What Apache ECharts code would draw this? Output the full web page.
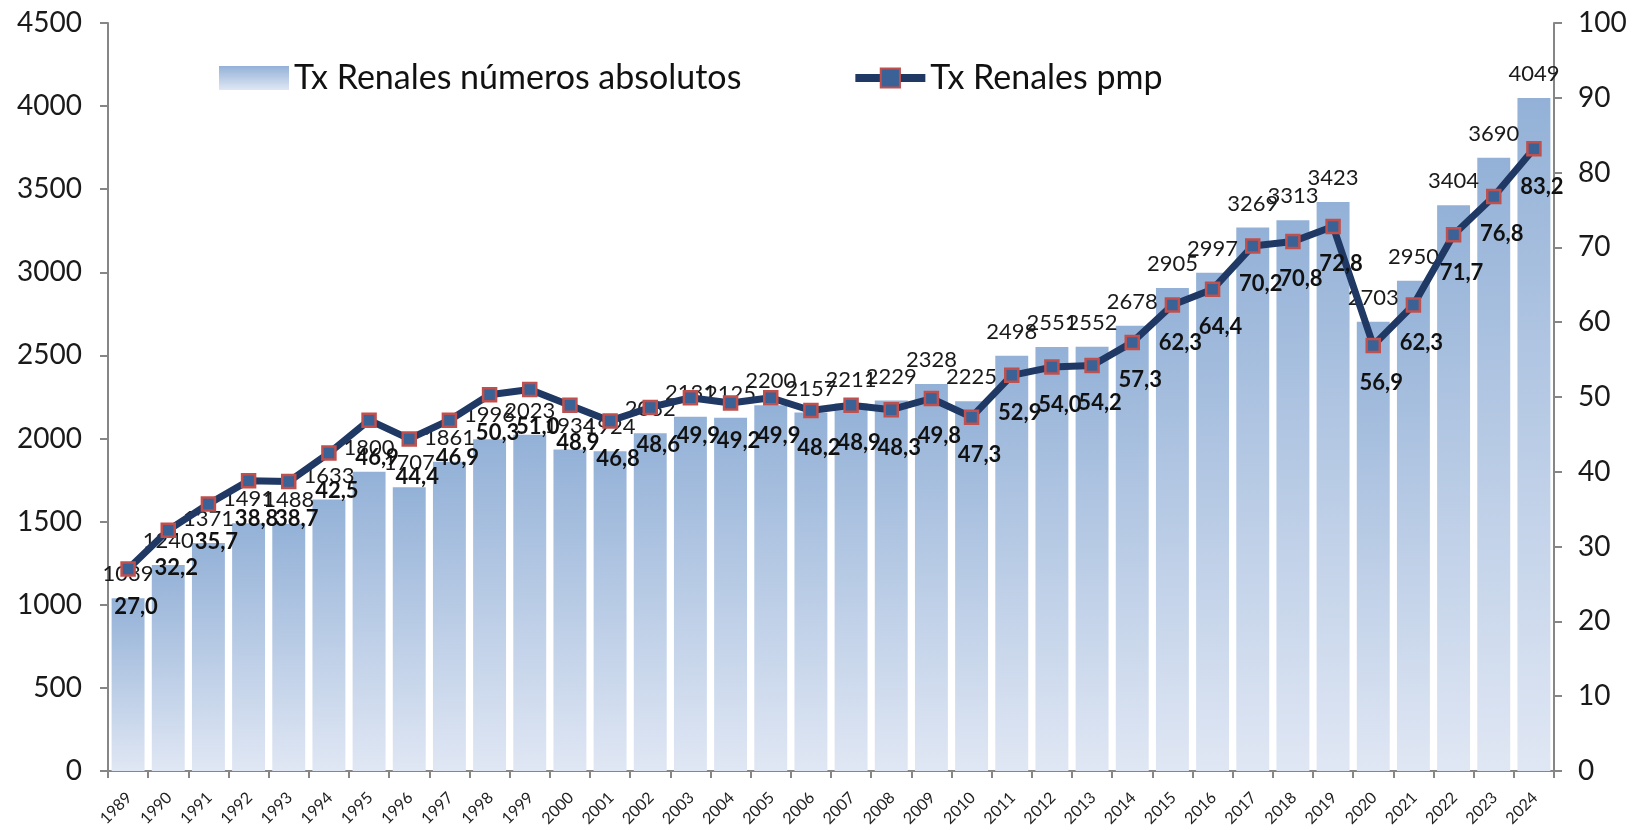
<!DOCTYPE html>
<html>
<head>
<meta charset="utf-8">
<script src="https://cdn.jsdelivr.net/npm/echarts@6/dist/echarts.min.js"></script>
<style>html,body{margin:0;padding:0;background:#fff;}#c{width:1638px;height:830px;}</style>
</head>
<body>
<div id="c"></div>
<script>
const years = ['1989','1990','1991','1992','1993','1994','1995','1996','1997','1998','1999','2000','2001','2002','2003','2004','2005','2006','2007','2008','2009','2010','2011','2012','2013','2014','2015','2016','2017','2018','2019','2020','2021','2022','2023','2024'];
const txAbsolutos = [1039,1240,1371,1491,1488,1633,1800,1707,1861,1996,2023,1934,1924,2032,2131,2125,2200,2157,2211,2229,2328,2225,2498,2551,2552,2678,2905,2997,3269,3313,3423,2703,2950,3404,3690,4049];
const txPmp = [27.0,32.2,35.7,38.8,38.7,42.5,46.9,44.4,46.9,50.3,51.0,48.9,46.8,48.6,49.9,49.2,49.9,48.2,48.9,48.3,49.8,47.3,52.9,54.0,54.2,57.3,62.3,64.4,70.2,70.8,72.8,56.9,62.3,71.7,76.8,83.2];
const leftTicks = {min:0, max:4500, interval:500};
const rightTicks = {min:0, max:100, interval:10};

const FONT = 'Lato, "Open Sans", sans-serif';
const chart = echarts.init(document.getElementById('c'), null, {renderer:'canvas'});
const axisLineStyle = {color:'#868686', width:2};
chart.setOption({
  animation:false,
  textStyle:{fontFamily:FONT},
  grid:{left:108, right:84, top:23, bottom:59, containLabel:false, outerBoundsMode:'none'},
  legend:{
    left:214, top:56, itemGap:110, itemWidth:70, itemHeight:24,
    textStyle:{fontSize:34, color:'#111', fontFamily:FONT},
    data:[
      {name:'Tx Renales números absolutos', icon:'rect'},
      {name:'Tx Renales pmp', lineStyle:{width:8, color:'#1f3864'}}
    ]
  },
  xAxis:{
    type:'category', data:years, boundaryGap:true,
    axisLine:{lineStyle:axisLineStyle},
    axisTick:{show:true, length:7, lineStyle:{color:'#868686', width:2}, alignWithLabel:false},
    axisLabel:{show:false}
  },
  yAxis:[
    {type:'value', min:leftTicks.min, max:leftTicks.max, interval:leftTicks.interval,
     splitLine:{show:false},
     axisLine:{show:true, lineStyle:axisLineStyle},
     axisTick:{show:true, length:8, lineStyle:{color:'#868686', width:2}},
     axisLabel:{fontSize:28, color:'#1a1a1a', margin:26, fontFamily:FONT, formatter:v=>String(v)}},
    {type:'value', min:rightTicks.min, max:rightTicks.max, interval:rightTicks.interval, position:'right',
     splitLine:{show:false},
     axisLine:{show:true, lineStyle:axisLineStyle},
     axisTick:{show:true, length:8, lineStyle:{color:'#868686', width:2}},
     axisLabel:{fontSize:28, color:'#1a1a1a', margin:24, fontFamily:FONT, formatter:v=>String(v)}}
  ],
  series:[
    {
      name:'Tx Renales números absolutos', type:'bar', yAxisIndex:0, data:txAbsolutos,
      barCategoryGap:'18%',
      itemStyle:{color:new echarts.graphic.LinearGradient(0,0,0,1,[
        {offset:0, color:'#93b1d7'},{offset:1, color:'#e0e7f4'}])},
      label:{show:true, position:'top', distance:13, fontSize:22, color:'#1a1a1a', fontFamily:FONT},
      z:1
    },
    {
      name:'Tx Renales pmp', type:'line', yAxisIndex:1, data:txPmp,
      symbol:'rect', symbolSize:13,
      lineStyle:{color:'#1f3864', width:7},
      itemStyle:{color:'#3b6296', borderColor:'#c0504d', borderWidth:2.5},
      label:{show:true, position:'bottom', distance:19, offset:[8,0], fontSize:22, fontWeight:'bold', color:'#111', fontFamily:FONT,
        formatter:p=>p.value.toFixed(1).replace('.',',')},
      z:3
    }
  ]
});

// Category labels rotated 45°, placed from the axis scale
const xLabels = years.map((y, i) => {
  const p = chart.convertToPixel({xAxisIndex:0, yAxisIndex:0}, [i, 0]);
  return {
    type:'text', x:p[0] + 1, y:p[1] + 24, rotation:Math.PI / 4, silent:true,
    style:{text:y, fontSize:16, fontFamily:FONT, fill:'#222', align:'right', verticalAlign:'middle'}
  };
});
chart.setOption({graphic:{elements:xLabels}});
</script>
</body>
</html>
